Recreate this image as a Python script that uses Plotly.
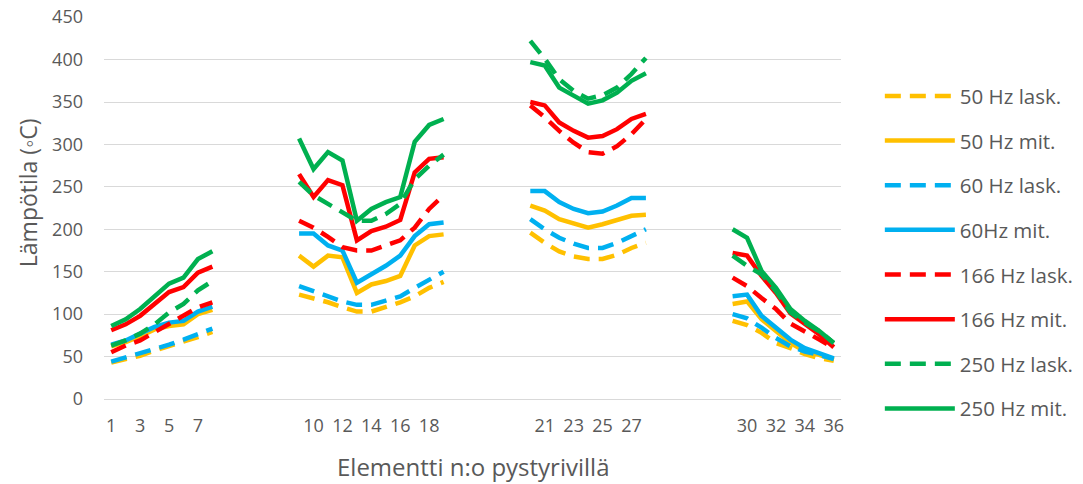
import plotly.graph_objects as go

# Element numbers in each vertical row group (gaps between groups on the axis)
groups = [list(range(1, 9)), list(range(9, 20)), list(range(20, 29)), list(range(29, 37))]
gap_slots = 5

tick_labels = ["1", "3", "5", "7", "10", "12", "14", "16", "18",
               "21", "23", "25", "27", "30", "32", "34", "36"]
y_ticks = [0, 50, 100, 150, 200, 250, 300, 350, 400, 450]

series_names = ["50 Hz lask.", "50 Hz mit.", "60 Hz lask.", "60Hz mit.",
                "166 Hz lask.", "166 Hz mit.", "250 Hz lask.", "250 Hz mit."]

x_title = "Elementti n:o pystyrivillä"
y_title = "Lämpötila (◦C)"

hz50_lask = [43, 47, 51, 57, 62, 67, 73, 79,
             123, 119, 114, 108, 103, 103, 108, 114, 121, 131, 138,
             196, 184, 174, 168, 165, 165, 170, 178, 184,
             92, 87, 78, 66, 60, 53, 48, 45]
hz50_mit = [62, 67, 74, 82, 86, 88, 100, 105,
            169, 156, 169, 167, 125, 135, 139, 145, 181, 192, 194,
            228, 222, 212, 207, 202, 206, 211, 216, 217,
            112, 115, 94, 80, 66, 56, 52, 46]
hz60_lask = [44, 49, 53, 59, 64, 70, 76, 83,
             133, 127, 121, 115, 111, 111, 116, 121, 131, 141, 150,
             212, 200, 190, 183, 178, 178, 184, 192, 200,
             100, 95, 84, 72, 62, 56, 52, 47]
hz60_mit = [64, 69, 77, 85, 90, 92, 103, 109,
            195, 195, 181, 175, 137, 147, 157, 169, 192, 206, 208,
            245, 245, 232, 224, 219, 221, 228, 237, 237,
            121, 123, 98, 84, 70, 60, 54, 48]
hz166_lask = [55, 63, 69, 79, 88, 98, 108, 114,
              210, 202, 191, 179, 175, 175, 181, 187, 202, 224, 240,
              346, 332, 316, 302, 291, 289, 298, 312, 330,
              143, 133, 119, 106, 89, 80, 70, 60]
hz166_mit = [81, 88, 98, 112, 126, 132, 149, 156,
             265, 238, 258, 252, 187, 198, 203, 211, 267, 283, 285,
             350, 346, 326, 316, 308, 310, 318, 330, 336,
             172, 169, 145, 125, 101, 88, 76, 61]
hz250_lask = [63, 69, 77, 88, 102, 112, 128, 139,
              256, 240, 230, 220, 210, 210, 218, 230, 259, 275, 288,
              422, 401, 377, 363, 354, 358, 367, 383, 402,
              169, 157, 147, 127, 102, 90, 80, 66]
hz250_mit = [86, 94, 106, 121, 136, 143, 165, 174,
             307, 271, 291, 281, 210, 224, 232, 238, 303, 323, 330,
             397, 393, 367, 358, 348, 352, 361, 375, 384,
             200, 190, 151, 131, 106, 92, 80, 66]

series_values = [hz50_lask, hz50_mit, hz60_lask, hz60_mit,
                 hz166_lask, hz166_mit, hz250_lask, hz250_mit]
colors = ["#FFC000", "#FFC000", "#00B0F0", "#00B0F0",
          "#FF0000", "#FF0000", "#00B050", "#00B050"]
dashes = ["16px,9px", "solid", "16px,9px", "solid",
          "16px,9px", "solid", "16px,9px", "solid"]

# build category axis with blank slots between groups
categories = []
element_cats = []
for gi, g in enumerate(groups):
    for n in g:
        categories.append(str(n))
        element_cats.append(str(n))
    if gi < len(groups) - 1:
        for k in range(gap_slots):
            categories.append("gap%d_%d" % (gi, k))


def with_gaps(values):
    lookup = dict(zip(element_cats, values))
    return [lookup.get(c) for c in categories]


FONT = "Open Sans"
TXT = "#595959"

fig = go.Figure()
for i, (name, vals) in enumerate(zip(series_names, series_values)):
    fig.add_trace(go.Scatter(
        x=categories, y=with_gaps(vals), mode="lines", name=name,
        legendgroup="g%d" % i,
        line=dict(color=colors[i], width=4.5, dash=dashes[i]),
        connectgaps=False,
    ))

fig.update_layout(
    width=1083, height=484,
    margin=dict(l=104, r=242, t=17, b=85, autoexpand=False),
    paper_bgcolor="white", plot_bgcolor="white",
    font=dict(family=FONT, color=TXT, size=18),
    showlegend=True,
    legend=dict(
        xref="container", yref="container",
        x=0.8124, y=0.8428, xanchor="left", yanchor="top",
        font=dict(size=20.5, color=TXT, family=FONT),
        itemwidth=70, tracegroupgap=15, maxheight=480,
        bgcolor="rgba(0,0,0,0)",
    ),
    xaxis=dict(
        type="category", categoryorder="array", categoryarray=categories,
        range=[-0.5, len(categories) - 0.5], automargin=False,
        tickmode="array", tickvals=tick_labels, ticktext=tick_labels,
        tickangle=0, ticks="", showgrid=False, showline=False, zeroline=False,
        tickfont=dict(size=18, color=TXT, family=FONT),
        ticklabelstandoff=14,
    ),
    yaxis=dict(
        range=[0, 450.2], tickmode="array", tickvals=y_ticks,
        automargin=False, ticklabeloverflow="allow",
        showgrid=True, gridcolor="#D9D9D9", gridwidth=1.3,
        zeroline=True, zerolinecolor="#D9D9D9", zerolinewidth=1.3,
        showline=False, ticks="",
        tickfont=dict(size=18, color=TXT, family=FONT),
        ticklabelstandoff=20,
    ),
    annotations=[
        dict(text=x_title, xref="paper", yref="paper", x=0.50, y=-0.178,
             xanchor="center", yanchor="middle", showarrow=False,
             font=dict(size=24, color=TXT, family=FONT)),
        dict(text=y_title, xref="paper", yref="paper", x=-0.103, y=0.539,
             xanchor="center", yanchor="middle", textangle=-90, showarrow=False,
             font=dict(size=23, color=TXT, family=FONT)),
    ],
)

# remove the browser's default 8px page margin so the figure fills the window
fig.write_html("out.html",
               config={"displayModeBar": False},
               post_script="document.body.style.margin='0';document.body.style.overflow='hidden';")
